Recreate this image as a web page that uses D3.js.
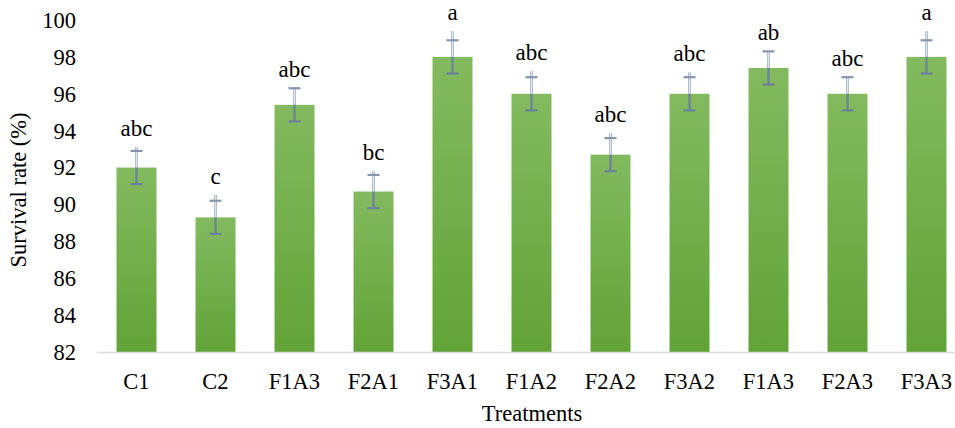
<html>
<head>
  <meta charset="utf-8">
  <title>Survival rate</title>
  <script src="https://cdn.jsdelivr.net/npm/d3@7"></script>
  <style>
    body { margin: 0; background: #fff; }
  </style>
</head>
<body>
<div id="chart"></div>
<script>
  // data
  const treatments = ["C1", "C2", "F1A3", "F2A1", "F3A1", "F1A2", "F2A2", "F3A2", "F1A3", "F2A3", "F3A3"]
  const survival = [92.0, 89.3, 95.4, 90.7, 98.0, 96.0, 92.7, 96.0, 97.4, 96.0, 98.0]
  const errSD = [0.9, 0.9, 0.9, 0.9, 0.9, 0.9, 0.9, 0.9, 0.9, 0.9, 0.9]
  // the whisker line runs a little past the cap on some bars
  const whiskerTop = [93.12, 90.53, 96.3, 91.82, 99.39, 97.23, 93.87, 97.17, 98.3, 96.9, 99.39]
  const letters = ["abc", "c", "abc", "bc", "a", "abc", "abc", "abc", "ab", "abc", "a"]
  const yTicks = [82, 84, 86, 88, 90, 92, 94, 96, 98, 100]

  const FONT = "22.5px 'Liberation Serif'"
  const W = 955, H = 428
  const svg = d3.select("#chart").append("svg")
    .attr("width", W).attr("height", H)

  const defs = svg.append("defs")
  const grad = defs.append("linearGradient").attr("id", "barFill")
    .attr("x1", 0).attr("y1", 0).attr("x2", 0).attr("y2", 1)
  grad.append("stop").attr("offset", "0%").attr("stop-color", "#83ba5f")
  grad.append("stop").attr("offset", "100%").attr("stop-color", "#62a337")

  const x = d3.scaleBand()
    .domain(d3.range(treatments.length))
    .range([97, 966])
    .paddingInner(0.494)
    .paddingOuter(0.247)

  const y = d3.scaleLinear().domain([82, 100]).range([352, 20])

  //y tick labels
  svg.append("g").selectAll("text").data(yTicks).join("text")
    .attr("x", 76)
    .attr("y", d => y(d))
    .attr("dy", "0.35em")
    .attr("text-anchor", "end")
    .style("font", FONT)
    .text(d => d)

  //bars
  svg.append("g").selectAll("rect").data(survival).join("rect")
    .attr("x", (d, i) => x(i))
    .attr("y", d => y(d))
    .attr("width", x.bandwidth())
    .attr("height", d => y(82) - y(d))
    .attr("fill", "url(#barFill)")

  //axis line
  svg.append("line")
    .attr("x1", 97).attr("x2", W)
    .attr("y1", y(82) + 0.5).attr("y2", y(82) + 0.5)
    .attr("stroke", "#d9dce1").attr("stroke-width", 1.5)

  //error bars
  const eb = svg.append("g").selectAll("g").data(survival).join("g")
    .attr("transform", (d, i) => `translate(${x(i) + x.bandwidth() / 2},0)`)
  // upper part, light
  eb.append("line")
    .attr("y1", d => y(d)).attr("y2", (d, i) => y(whiskerTop[i]))
    .attr("stroke", "#b2bfd0").attr("stroke-width", 3)
  eb.append("line")
    .attr("y1", d => y(d)).attr("y2", (d, i) => y(whiskerTop[i]))
    .attr("stroke", "#e2e7ee").attr("stroke-width", 1)
  // lower part, dark
  eb.append("line")
    .attr("y1", d => y(d)).attr("y2", (d, i) => y(d - errSD[i]))
    .attr("stroke", "#6b809c").attr("stroke-width", 2.2)
  // caps
  eb.append("line")
    .attr("x1", -6).attr("x2", 6)
    .attr("y1", (d, i) => y(d + errSD[i])).attr("y2", (d, i) => y(d + errSD[i]))
    .attr("stroke", "#8596ae").attr("stroke-width", 2.2)
  eb.append("line")
    .attr("x1", -6).attr("x2", 6)
    .attr("y1", (d, i) => y(d - errSD[i])).attr("y2", (d, i) => y(d - errSD[i]))
    .attr("stroke", "#6b809c").attr("stroke-width", 2.2)

  //significance letters
  svg.append("g").selectAll("text").data(letters).join("text")
    .attr("x", (d, i) => x(i) + x.bandwidth() / 2)
    .attr("y", (d, i) => y(Math.max(whiskerTop[i], survival[i] + errSD[i])) - 11)
    .attr("text-anchor", "middle")
    .style("font", "23px 'Liberation Serif'")
    .text(d => d)

  //category labels
  svg.append("g").selectAll("text").data(treatments).join("text")
    .attr("x", (d, i) => x(i) + x.bandwidth() / 2)
    .attr("y", 389)
    .attr("text-anchor", "middle")
    .style("font", FONT)
    .text(d => d)

  //axis titles
  svg.append("text")
    .attr("x", 532).attr("y", 421)
    .attr("text-anchor", "middle")
    .style("font", FONT)
    .text("Treatments")
  svg.append("text")
    .attr("transform", "translate(26,190) rotate(-90)")
    .attr("text-anchor", "middle")
    .style("font", FONT)
    .text("Survival rate (%)")
</script>
</body>
</html>
